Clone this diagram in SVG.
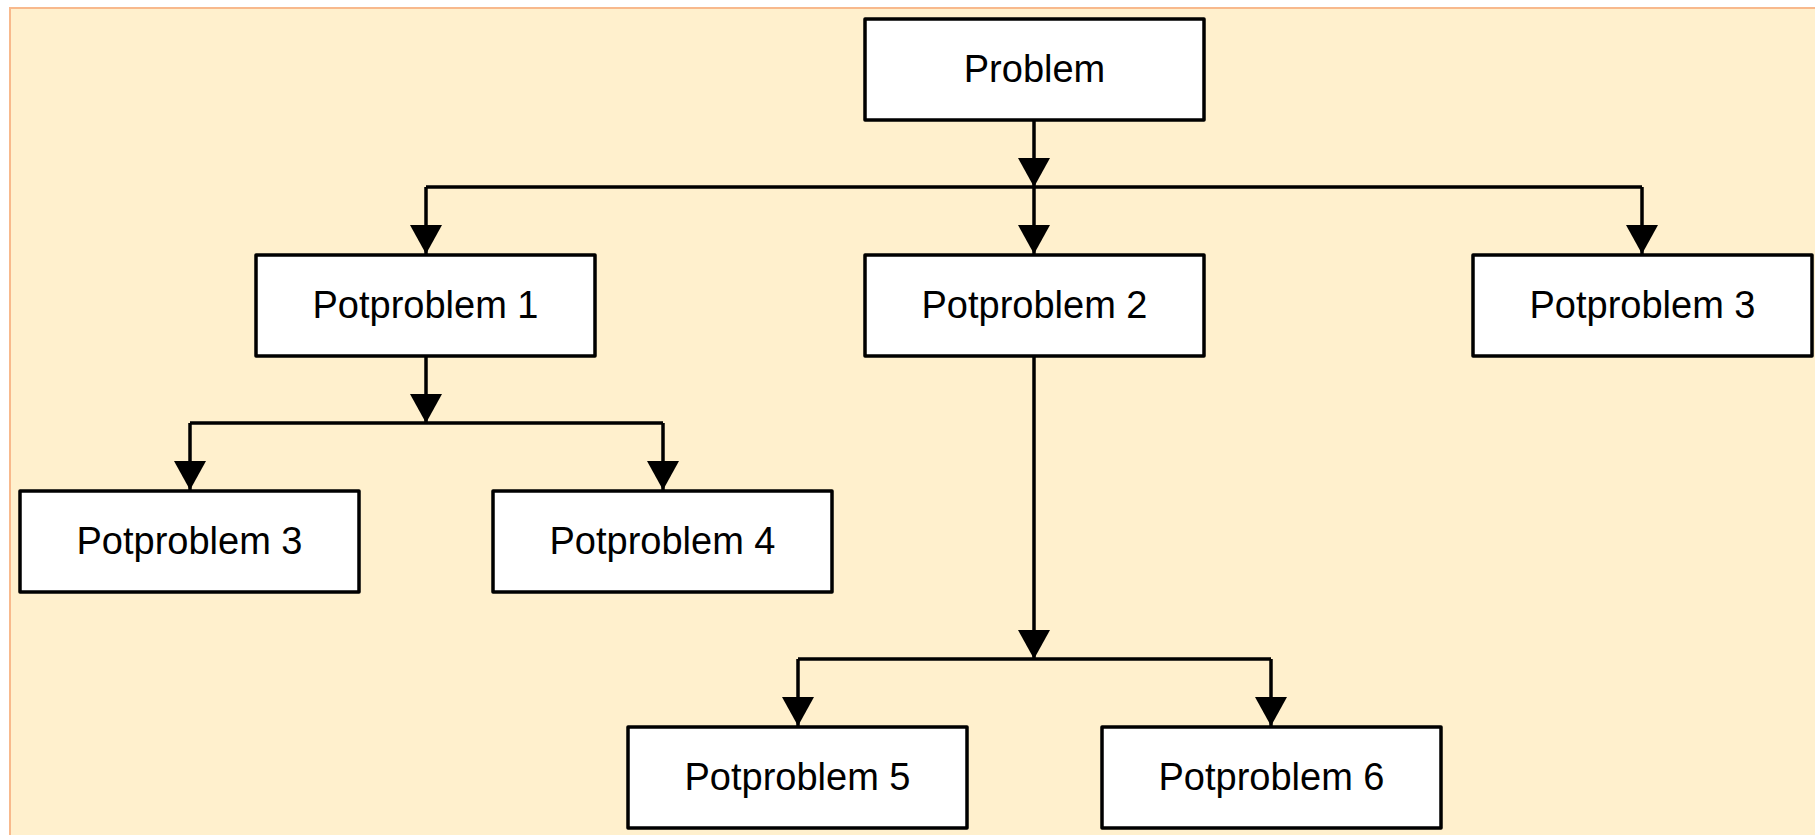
<svg xmlns="http://www.w3.org/2000/svg" width="1815" height="835" viewBox="0 0 1815 835">
<style>
.node rect{fill:#ffffff;stroke:#000000;stroke-width:3.5;stroke-linejoin:round}
.node text{font-family:"Liberation Sans",Arial,sans-serif;font-size:38px;fill:#000000;text-anchor:middle}
.conn path{fill:none;stroke:#000000;stroke-width:3.5;stroke-linejoin:round}
</style>
<defs>
<marker id="ah" markerUnits="userSpaceOnUse" markerWidth="32" markerHeight="30" viewBox="-16 -29 32 30" refX="0" refY="0" orient="0">
<path d="M-16,-29 L16,-29 L0,0 Z" fill="#000000"/>
</marker>
</defs>
<rect x="0" y="0" width="1815" height="835" fill="#ffffff"/>
<rect x="10" y="8" width="1815" height="840" fill="#fff0cd" stroke="#f8b98c" stroke-width="2"/>
<g class="conn" id="connectors">
<path d="M1034,120 V187" marker-end="url(#ah)"/>
<path d="M426,187 H1642"/>
<path d="M426,187 V254" marker-end="url(#ah)"/>
<path d="M1034,187 V254" marker-end="url(#ah)"/>
<path d="M1642,187 V254" marker-end="url(#ah)"/>
<path d="M426,356 V423" marker-end="url(#ah)"/>
<path d="M190,423 H663"/>
<path d="M190,423 V490" marker-end="url(#ah)"/>
<path d="M663,423 V490" marker-end="url(#ah)"/>
<path d="M1034,356 V659" marker-end="url(#ah)"/>
<path d="M798,659 H1271"/>
<path d="M798,659 V726" marker-end="url(#ah)"/>
<path d="M1271,659 V726" marker-end="url(#ah)"/>
</g>
<g class="node" id="n-problem"><rect x="865" y="19" width="339" height="101"/><text x="1034.5" y="81.5">Problem</text></g>
<g class="node" id="n-p1"><rect x="256" y="255" width="339" height="101"/><text x="425.5" y="317.5">Potproblem 1</text></g>
<g class="node" id="n-p2"><rect x="865" y="255" width="339" height="101"/><text x="1034.5" y="317.5">Potproblem 2</text></g>
<g class="node" id="n-p3r"><rect x="1473" y="255" width="339" height="101"/><text x="1642.5" y="317.5">Potproblem 3</text></g>
<g class="node" id="n-p3l"><rect x="20" y="491" width="339" height="101"/><text x="189.5" y="553.5">Potproblem 3</text></g>
<g class="node" id="n-p4"><rect x="493" y="491" width="339" height="101"/><text x="662.5" y="553.5">Potproblem 4</text></g>
<g class="node" id="n-p5"><rect x="628" y="727" width="339" height="101"/><text x="797.5" y="789.5">Potproblem 5</text></g>
<g class="node" id="n-p6"><rect x="1102" y="727" width="339" height="101"/><text x="1271.5" y="789.5">Potproblem 6</text></g>
</svg>
